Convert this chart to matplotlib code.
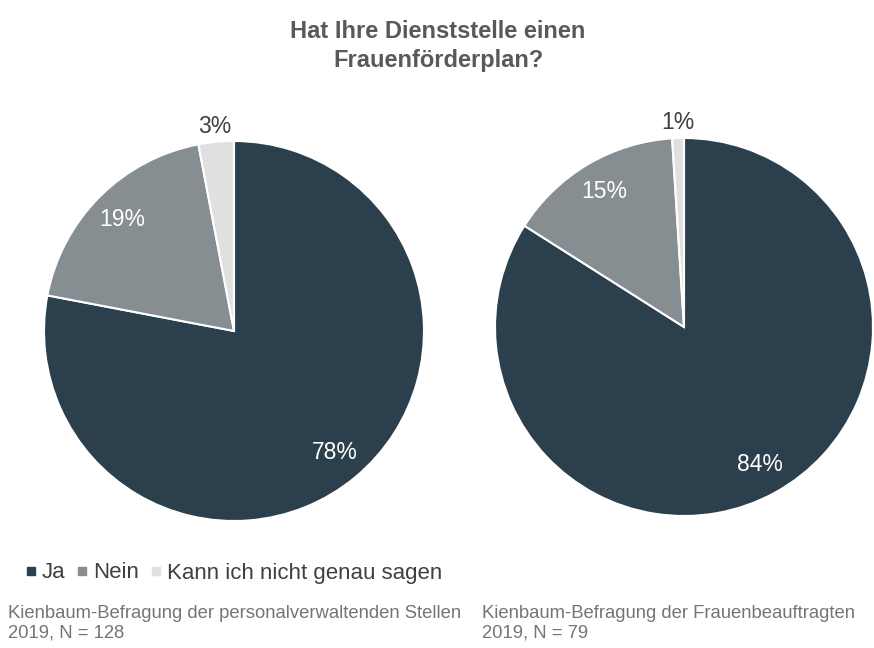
import numpy as np
import matplotlib
matplotlib.use("Agg")
import matplotlib.pyplot as plt
from matplotlib.lines import Line2D

plt.rcParams['font.family'] = ['Liberation Sans', 'DejaVu Sans']

categories = ["Ja", "Nein", "Kann ich nicht genau sagen"]
values_left = [78, 19, 3]
values_right = [84, 15, 1]
colors = ["#2B3F4C", "#868E92", "#E0E0E0"]
title = "Hat Ihre Dienststelle einen\nFrauenförderplan?"
source_left = "Kienbaum-Befragung der personalverwaltenden Stellen\n2019, N = 128"
source_right = "Kienbaum-Befragung der Frauenbeauftragten\n2019, N = 79"

W, H = 874, 648
fig = plt.figure(figsize=(W / 100, H / 100), dpi=100)
fig.patch.set_facecolor("white")

def draw_pie(cx, cy, r, vals):
    ax = fig.add_axes([(cx - r) / W, (H - cy - r) / H, 2 * r / W, 2 * r / H])
    ax.pie(vals, colors=colors, startangle=90, counterclock=False,
           wedgeprops=dict(edgecolor="white", linewidth=1.5), radius=1)
    ax.set_xlim(-1, 1)
    ax.set_ylim(-1, 1)
    ax.set_aspect("equal")
    ax.axis("off")
    total = sum(vals)
    start = 90.0
    for v in vals:
        span = 360.0 * v / total
        mid = np.deg2rad(start - span / 2)
        start -= span
        if v >= 10:
            d, col = 0.83, "white"
        else:
            d, col = 1.08, "#404040"
        ax.text(d * np.cos(mid), d * np.sin(mid), f"{v}%", ha="center", va="center",
                fontsize=16.5, color=col, clip_on=False)
    return ax

draw_pie(234, 331, 190, values_left)
draw_pie(684, 327, 189, values_right)

fig.text(438 / W, 1 - 46 / H, title, ha="center", va="center", fontsize=17,
         fontweight="bold", color="#595959", linespacing=1.3)

handles = [Line2D([0], [0], marker="s", linestyle="none", markersize=6,
                  markerfacecolor=c, markeredgecolor=c) for c in colors]
fig.legend(handles, categories, loc="center left", bbox_to_anchor=(5 / W, 1 - 573 / H),
           ncol=3, frameon=False, fontsize=16, handlelength=0.5, handletextpad=0.25,
           columnspacing=0.5, labelcolor="#404040")

fig.text(8 / W, 1 - 623 / H, source_left, ha="left", va="center", fontsize=13.3,
         color="#757575", linespacing=1.2)
fig.text(482 / W, 1 - 623 / H, source_right, ha="left", va="center", fontsize=13.3,
         color="#757575", linespacing=1.2)

fig.savefig("out.png", dpi=100)
